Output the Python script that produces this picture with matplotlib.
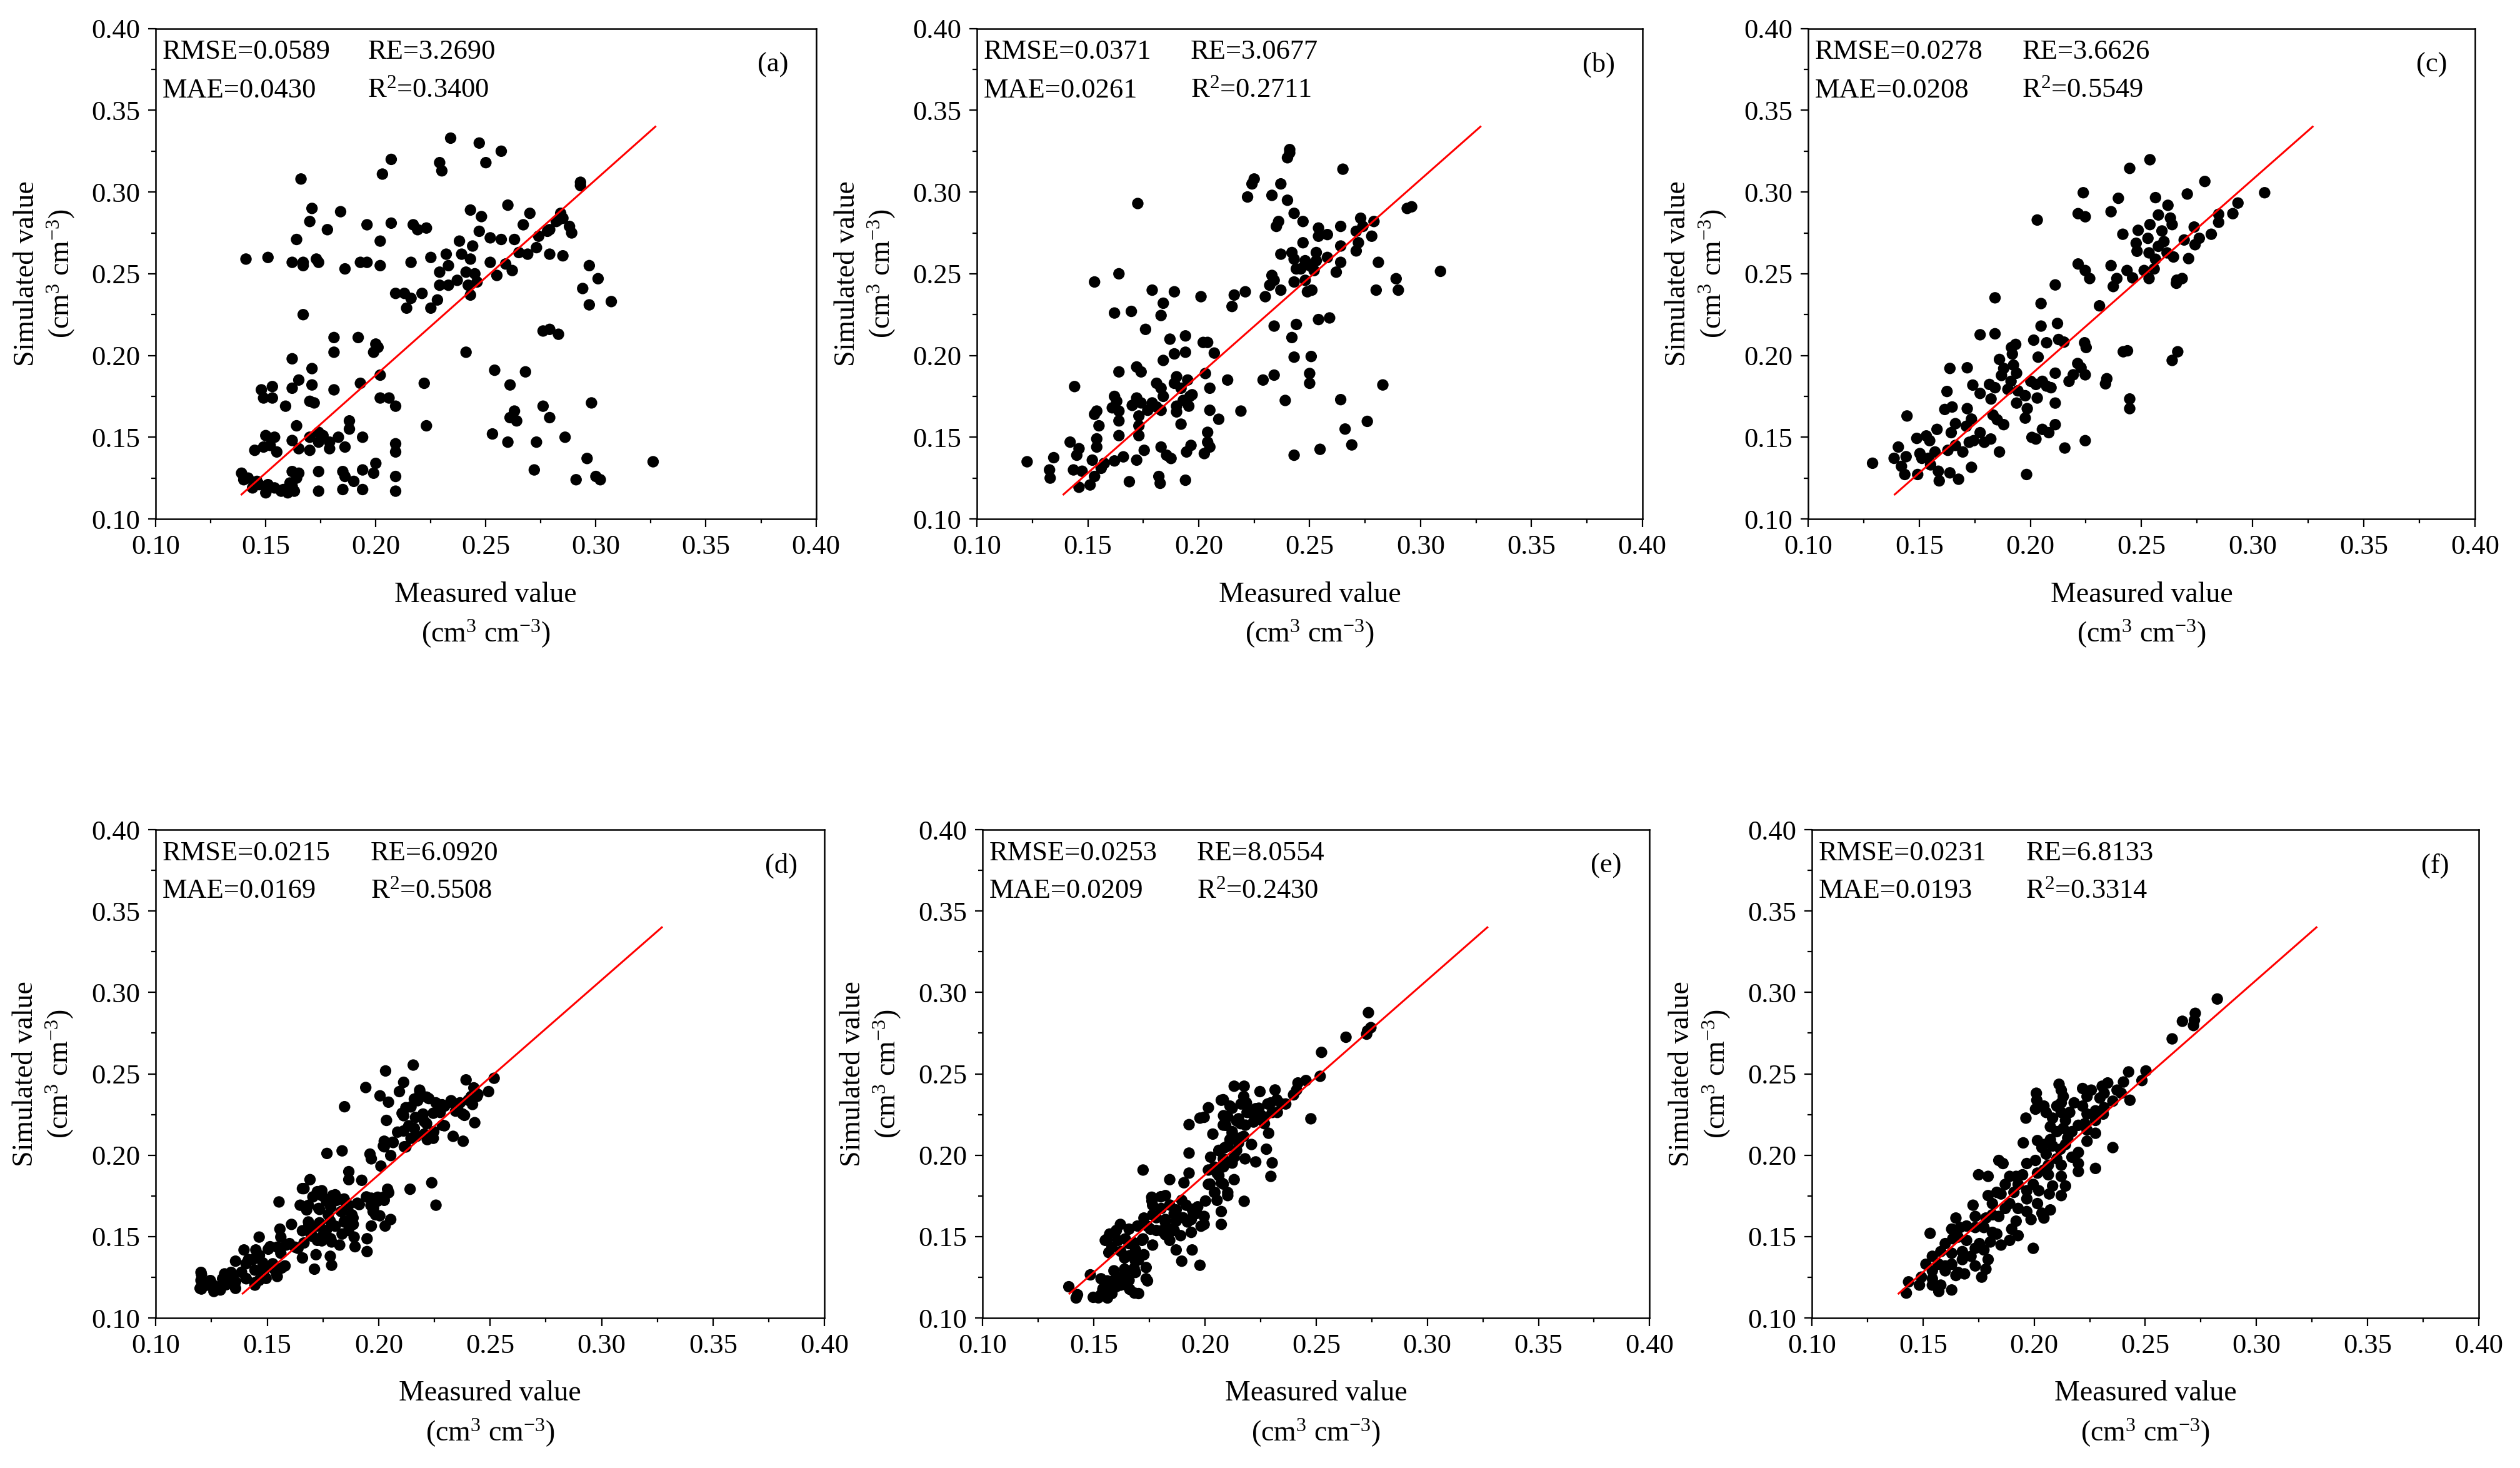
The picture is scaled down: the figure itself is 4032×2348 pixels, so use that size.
import matplotlib
matplotlib.use('Agg')
import matplotlib.pyplot as plt
from matplotlib.ticker import MultipleLocator

plt.rcParams['font.family'] = ['Liberation Serif', 'DejaVu Serif']
plt.rcParams['mathtext.fontset'] = 'custom'
plt.rcParams['mathtext.rm'] = 'Liberation Serif'
plt.rcParams['mathtext.it'] = 'Liberation Serif:italic'

# statistics printed in each panel
panel_tags = ['(a)', '(b)', '(c)', '(d)', '(e)', '(f)']
rmse = ['0.0589', '0.0371', '0.0278', '0.0215', '0.0253', '0.0231']
mae = ['0.0430', '0.0261', '0.0208', '0.0169', '0.0209', '0.0193']
re_vals = ['3.2690', '3.0677', '3.6626', '6.0920', '8.0554', '6.8133']
r2 = ['0.3400', '0.2711', '0.5549', '0.5508', '0.2430', '0.3314']

# red fitted line (same in every panel)
fit_x = [0.139, 0.327]
fit_y = [0.115, 0.340]

# (measured, simulated) pairs
a_points = [
    (0.234, 0.333), (0.247, 0.330), (0.257, 0.325), (0.207, 0.320), (0.229, 0.318), (0.230, 0.313),
    (0.250, 0.318), (0.203, 0.311), (0.166, 0.308), (0.293, 0.306), (0.293, 0.304), (0.171, 0.290),
    (0.184, 0.288), (0.243, 0.289), (0.260, 0.292), (0.248, 0.285), (0.270, 0.287), (0.170, 0.282),
    (0.178, 0.277), (0.196, 0.280), (0.207, 0.281), (0.217, 0.280), (0.219, 0.277), (0.223, 0.278),
    (0.267, 0.280), (0.284, 0.287), (0.283, 0.283), (0.288, 0.279), (0.289, 0.275), (0.278, 0.276),
    (0.274, 0.273), (0.279, 0.277), (0.282, 0.282), (0.285, 0.284), (0.164, 0.271), (0.202, 0.270),
    (0.247, 0.276), (0.252, 0.272), (0.257, 0.271), (0.263, 0.271), (0.265, 0.263), (0.269, 0.262),
    (0.273, 0.266), (0.279, 0.262), (0.285, 0.261), (0.141, 0.259), (0.151, 0.260), (0.162, 0.257),
    (0.167, 0.257), (0.167, 0.255), (0.173, 0.259), (0.174, 0.257), (0.186, 0.253), (0.193, 0.257),
    (0.196, 0.257), (0.202, 0.255), (0.216, 0.257), (0.225, 0.260), (0.232, 0.262), (0.238, 0.270),
    (0.239, 0.262), (0.244, 0.267), (0.243, 0.259), (0.229, 0.251), (0.233, 0.255), (0.241, 0.251),
    (0.245, 0.250), (0.252, 0.257), (0.255, 0.249), (0.259, 0.256), (0.262, 0.252), (0.297, 0.255),
    (0.301, 0.247), (0.294, 0.241), (0.297, 0.231), (0.307, 0.233), (0.229, 0.243), (0.233, 0.243),
    (0.237, 0.246), (0.242, 0.243), (0.243, 0.237), (0.246, 0.245), (0.209, 0.238), (0.213, 0.238),
    (0.216, 0.235), (0.214, 0.229), (0.221, 0.238), (0.225, 0.229), (0.228, 0.234), (0.167, 0.225),
    (0.276, 0.215), (0.279, 0.216), (0.283, 0.213), (0.181, 0.211), (0.181, 0.202), (0.192, 0.211),
    (0.200, 0.207), (0.199, 0.202), (0.201, 0.205), (0.241, 0.202), (0.162, 0.198), (0.254, 0.191),
    (0.268, 0.190), (0.171, 0.192), (0.202, 0.188), (0.193, 0.183), (0.222, 0.183), (0.165, 0.185),
    (0.261, 0.182), (0.148, 0.179), (0.153, 0.181), (0.162, 0.180), (0.171, 0.182), (0.181, 0.179),
    (0.149, 0.174), (0.153, 0.174), (0.202, 0.174), (0.206, 0.174), (0.170, 0.172), (0.172, 0.171),
    (0.209, 0.169), (0.159, 0.169), (0.276, 0.169), (0.298, 0.171), (0.263, 0.166), (0.264, 0.160),
    (0.261, 0.162), (0.279, 0.162), (0.164, 0.157), (0.223, 0.157), (0.253, 0.152), (0.260, 0.147),
    (0.273, 0.147), (0.286, 0.150), (0.150, 0.151), (0.154, 0.150), (0.149, 0.144), (0.145, 0.142),
    (0.155, 0.141), (0.162, 0.148), (0.165, 0.143), (0.170, 0.142), (0.170, 0.150), (0.174, 0.153),
    (0.176, 0.151), (0.174, 0.147), (0.179, 0.147), (0.183, 0.150), (0.179, 0.143), (0.188, 0.160),
    (0.188, 0.155), (0.186, 0.144), (0.194, 0.150), (0.209, 0.146), (0.209, 0.141), (0.139, 0.128),
    (0.142, 0.125), (0.144, 0.119), (0.147, 0.121), (0.151, 0.121), (0.154, 0.119), (0.157, 0.117),
    (0.160, 0.116), (0.162, 0.120), (0.164, 0.125), (0.162, 0.129), (0.165, 0.128), (0.163, 0.117),
    (0.174, 0.129), (0.174, 0.117), (0.185, 0.129), (0.186, 0.126), (0.185, 0.118), (0.190, 0.123),
    (0.194, 0.130), (0.194, 0.118), (0.200, 0.134), (0.199, 0.128), (0.209, 0.126), (0.209, 0.117),
    (0.291, 0.124), (0.296, 0.137), (0.300, 0.126), (0.302, 0.124), (0.272, 0.130), (0.326, 0.135),
    (0.140, 0.124), (0.150, 0.116), (0.158, 0.118), (0.161, 0.122), (0.146, 0.123), (0.152, 0.145),
]

b_points = [
    (0.241, 0.326), (0.241, 0.324), (0.240, 0.321), (0.265, 0.314), (0.225, 0.308), (0.224, 0.305),
    (0.237, 0.305), (0.222, 0.297), (0.233, 0.298), (0.240, 0.295), (0.1725, 0.293), (0.296, 0.291),
    (0.294, 0.290), (0.243, 0.287), (0.236, 0.282), (0.235, 0.279), (0.247, 0.282), (0.273, 0.284),
    (0.279, 0.282), (0.254, 0.278), (0.264, 0.279), (0.258, 0.274), (0.271, 0.276), (0.274, 0.279),
    (0.254, 0.273), (0.278, 0.273), (0.247, 0.269), (0.272, 0.269), (0.264, 0.267), (0.271, 0.264),
    (0.237, 0.262), (0.242, 0.263), (0.243, 0.259), (0.253, 0.263), (0.258, 0.260), (0.264, 0.257),
    (0.281, 0.257), (0.248, 0.258), (0.250, 0.255), (0.253, 0.258), (0.244, 0.253), (0.246, 0.253),
    (0.252, 0.252), (0.262, 0.251), (0.309, 0.2515), (0.233, 0.249), (0.234, 0.246), (0.232, 0.243),
    (0.237, 0.240), (0.243, 0.245), (0.248, 0.246), (0.249, 0.239), (0.251, 0.240), (0.289, 0.247),
    (0.290, 0.240), (0.280, 0.240), (0.153, 0.245), (0.164, 0.250), (0.179, 0.240), (0.189, 0.239),
    (0.201, 0.236), (0.216, 0.237), (0.215, 0.230), (0.221, 0.239), (0.230, 0.236), (0.184, 0.232),
    (0.162, 0.226), (0.1696, 0.227), (0.183, 0.2245), (0.176, 0.216), (0.187, 0.210), (0.194, 0.212),
    (0.202, 0.208), (0.204, 0.208), (0.207, 0.2015), (0.189, 0.201), (0.194, 0.202), (0.184, 0.197),
    (0.234, 0.218), (0.244, 0.219), (0.242, 0.211), (0.254, 0.222), (0.259, 0.223), (0.243, 0.199),
    (0.2507, 0.1994), (0.250, 0.189), (0.250, 0.183), (0.283, 0.182), (0.264, 0.173), (0.239, 0.1725),
    (0.229, 0.185), (0.213, 0.185), (0.205, 0.180), (0.203, 0.189), (0.144, 0.181), (0.164, 0.190),
    (0.172, 0.193), (0.174, 0.190), (0.181, 0.183), (0.183, 0.180), (0.190, 0.187), (0.189, 0.183),
    (0.195, 0.185), (0.197, 0.176), (0.162, 0.175), (0.163, 0.172), (0.161, 0.168), (0.164, 0.166),
    (0.164, 0.160), (0.153, 0.164), (0.154, 0.166), (0.155, 0.157), (0.154, 0.149), (0.154, 0.144),
    (0.164, 0.151), (0.170, 0.1695), (0.172, 0.174), (0.174, 0.171), (0.177, 0.1665), (0.173, 0.163),
    (0.173, 0.157), (0.173, 0.151), (0.179, 0.171), (0.181, 0.1685), (0.183, 0.1665), (0.184, 0.175),
    (0.190, 0.169), (0.190, 0.1655), (0.192, 0.158), (0.193, 0.1725), (0.196, 0.175), (0.1955, 0.169),
    (0.192, 0.180), (0.205, 0.1665), (0.209, 0.161), (0.219, 0.166), (0.204, 0.153), (0.204, 0.147),
    (0.205, 0.144), (0.2025, 0.140), (0.1965, 0.145), (0.1945, 0.141), (0.183, 0.144), (0.1855, 0.139),
    (0.1875, 0.137), (0.1754, 0.142), (0.172, 0.136), (0.166, 0.138), (0.162, 0.1355), (0.1574, 0.134),
    (0.156, 0.131), (0.152, 0.136), (0.153, 0.126), (0.151, 0.1208), (0.146, 0.1194), (0.1474, 0.1292),
    (0.145, 0.139), (0.146, 0.143), (0.142, 0.147), (0.1435, 0.130), (0.1327, 0.130), (0.133, 0.125),
    (0.1226, 0.135), (0.1346, 0.1375), (0.1687, 0.1228), (0.182, 0.126), (0.1826, 0.1218), (0.194, 0.1237),
    (0.243, 0.139), (0.2547, 0.1426), (0.269, 0.1453), (0.266, 0.155), (0.276, 0.1597), (0.234, 0.188),
]

c_points = [
    (0.2538, 0.3198), (0.2447, 0.3145), (0.2785, 0.3065), (0.2238, 0.2996), (0.3054, 0.2996), (0.2706, 0.2988),
    (0.2396, 0.2962), (0.2563, 0.2966), (0.2934, 0.2933), (0.2619, 0.2919), (0.2363, 0.2880), (0.2215, 0.2868),
    (0.2247, 0.2849), (0.2911, 0.2868), (0.2847, 0.2864), (0.2576, 0.2860), (0.2630, 0.2841), (0.2031, 0.2829),
    (0.2847, 0.2815), (0.2638, 0.2801), (0.2538, 0.2801), (0.2737, 0.2786), (0.2485, 0.2766), (0.2592, 0.2762),
    (0.2416, 0.2742), (0.2814, 0.2742), (0.2529, 0.2717), (0.2476, 0.2687), (0.2601, 0.2697), (0.2692, 0.2707),
    (0.2760, 0.2717), (0.2741, 0.2678), (0.2480, 0.2638), (0.2534, 0.2628), (0.2576, 0.2668), (0.2615, 0.2628),
    (0.2563, 0.2589), (0.2644, 0.2603), (0.2712, 0.2593), (0.2215, 0.2560), (0.2363, 0.2550), (0.2247, 0.2520),
    (0.2267, 0.2471), (0.2435, 0.2520), (0.2460, 0.2475), (0.2512, 0.2520), (0.2534, 0.2471), (0.2557, 0.2530),
    (0.2389, 0.2471), (0.2373, 0.2422), (0.2659, 0.2461), (0.2683, 0.2471), (0.2657, 0.2442), (0.2112, 0.2432),
    (0.1841, 0.2353), (0.2048, 0.2318), (0.2311, 0.2304), (0.2048, 0.2180), (0.2122, 0.2196), (0.1774, 0.2127),
    (0.1841, 0.2133), (0.2015, 0.2094), (0.2073, 0.2078), (0.2127, 0.2098), (0.2151, 0.2082), (0.2244, 0.2078),
    (0.2251, 0.2049), (0.1934, 0.2068), (0.1915, 0.2049), (0.1919, 0.2009), (0.2418, 0.2023), (0.2437, 0.2029),
    (0.2663, 0.2023), (0.2638, 0.1970), (0.1861, 0.1976), (0.2035, 0.1990), (0.1924, 0.1941), (0.1880, 0.1921),
    (0.1938, 0.1892), (0.1638, 0.1921), (0.1716, 0.1925), (0.1870, 0.1878), (0.2213, 0.1951), (0.2228, 0.1925),
    (0.2247, 0.1882), (0.2112, 0.1892), (0.2193, 0.1882), (0.2174, 0.1842), (0.2344, 0.1858), (0.2338, 0.1827),
    (0.1741, 0.1819), (0.1816, 0.1823), (0.1841, 0.1803), (0.1774, 0.1768), (0.1913, 0.1842), (0.1899, 0.1793),
    (0.1944, 0.1784), (0.1977, 0.1754), (0.2002, 0.1842), (0.2025, 0.1823), (0.2054, 0.1842), (0.2073, 0.1813),
    (0.2093, 0.1803), (0.2031, 0.1740), (0.1625, 0.1780), (0.1823, 0.1734), (0.1938, 0.1709), (0.2112, 0.1709),
    (0.2447, 0.1734), (0.2447, 0.1675), (0.1615, 0.1670), (0.1648, 0.1685), (0.1716, 0.1675), (0.1832, 0.1636),
    (0.1986, 0.1675), (0.1977, 0.1617), (0.1851, 0.1607), (0.1880, 0.1577), (0.1445, 0.1630), (0.1580, 0.1548),
    (0.1663, 0.1583), (0.1735, 0.1611), (0.1712, 0.1567), (0.1774, 0.1528), (0.1745, 0.1479), (0.1644, 0.1528),
    (0.2054, 0.1548), (0.2083, 0.1528), (0.2112, 0.1577), (0.2007, 0.1499), (0.2025, 0.1489), (0.2247, 0.1479),
    (0.1489, 0.1493), (0.1532, 0.1508), (0.1547, 0.1479), (0.1406, 0.1440), (0.1503, 0.1400), (0.1541, 0.1371),
    (0.1571, 0.1410), (0.1629, 0.1420), (0.1663, 0.1450), (0.1696, 0.1410), (0.1725, 0.1469), (0.1793, 0.1469),
    (0.1822, 0.1489), (0.1861, 0.1410), (0.2155, 0.1434), (0.1387, 0.1371), (0.1441, 0.1381), (0.1290, 0.1341),
    (0.1420, 0.1322), (0.1435, 0.1272), (0.1493, 0.1272), (0.1512, 0.1371), (0.1551, 0.1331), (0.1586, 0.1292),
    (0.1590, 0.1233), (0.1638, 0.1282), (0.1677, 0.1243), (0.1735, 0.1316), (0.1983, 0.1272),
]

d_points = [
    (0.2155, 0.2554), (0.2031, 0.2518), (0.2518, 0.2473), (0.2392, 0.2463), (0.2112, 0.2448), (0.1942, 0.2416),
    (0.2184, 0.2400), (0.2093, 0.2391), (0.2493, 0.2391), (0.2427, 0.2414), (0.2006, 0.2365), (0.2215, 0.2357),
    (0.2441, 0.2361), (0.2044, 0.2326), (0.2160, 0.2345), (0.2257, 0.2322), (0.2334, 0.2322), (0.2402, 0.2338),
    (0.1847, 0.2298), (0.2122, 0.2292), (0.2296, 0.2302), (0.2354, 0.2283), (0.2421, 0.2312), (0.2112, 0.2243),
    (0.2199, 0.2253), (0.2276, 0.2263), (0.2377, 0.2253), (0.2035, 0.2214), (0.2215, 0.2194), (0.2431, 0.2200),
    (0.2286, 0.2184), (0.2160, 0.2165), (0.2112, 0.2149), (0.2247, 0.2145), (0.2170, 0.2116), (0.2334, 0.2116),
    (0.2379, 0.2086), (0.2218, 0.2096), (0.2025, 0.2086), (0.2064, 0.2080), (0.2122, 0.2051), (0.2021, 0.2057),
    (0.1768, 0.2011), (0.1836, 0.2027), (0.1961, 0.2007), (0.1967, 0.1978), (0.2054, 0.1998), (0.2010, 0.1933),
    (0.1866, 0.1899), (0.1866, 0.1850), (0.1924, 0.1846), (0.2238, 0.1831), (0.2141, 0.1791), (0.2040, 0.1791),
    (0.2257, 0.1693), (0.1692, 0.1850), (0.1658, 0.1795), (0.1725, 0.1776), (0.1745, 0.1752), (0.1793, 0.1752),
    (0.1812, 0.1723), (0.1851, 0.1713), (0.1913, 0.1697), (0.1967, 0.1736), (0.1996, 0.1742), (0.2025, 0.1723),
    (0.1977, 0.1673), (0.1553, 0.1713), (0.1648, 0.1693), (0.1677, 0.1664), (0.1731, 0.1673), (0.1774, 0.1634),
    (0.1832, 0.1654), (0.1880, 0.1634), (0.1847, 0.1595), (0.1886, 0.1575), (0.1986, 0.1634), (0.2054, 0.1605),
    (0.2029, 0.1565), (0.1967, 0.1565), (0.1687, 0.1575), (0.1735, 0.1585), (0.1783, 0.1595), (0.1609, 0.1575),
    (0.1557, 0.1546), (0.1561, 0.1497), (0.1658, 0.1536), (0.1696, 0.1516), (0.1725, 0.1477), (0.1750, 0.1506),
    (0.1789, 0.1467), (0.1836, 0.1516), (0.1890, 0.1497), (0.1894, 0.1438), (0.1948, 0.1487), (0.1948, 0.1408),
    (0.1464, 0.1497), (0.1513, 0.1438), (0.1600, 0.1457), (0.1638, 0.1428), (0.1561, 0.1398), (0.1658, 0.1369),
    (0.1719, 0.1389), (0.1783, 0.1379), (0.1789, 0.1324), (0.1712, 0.1300), (0.1396, 0.1418), (0.1449, 0.1418),
    (0.1416, 0.1359), (0.1480, 0.1339), (0.1358, 0.1349), (0.1532, 0.1300), (0.1580, 0.1320), (0.1542, 0.1271),
    (0.1484, 0.1271), (0.1464, 0.1231), (0.1445, 0.1202), (0.1406, 0.1241), (0.1358, 0.1222), (0.1358, 0.1182),
    (0.1309, 0.1271), (0.1300, 0.1241), (0.1290, 0.1172), (0.1261, 0.1163), (0.1251, 0.1212), (0.1203, 0.1280),
    (0.1203, 0.1231), (0.1199, 0.1182), (0.1232, 0.1202), (0.1338, 0.1280),
    (0.1665, 0.1795), (0.1705, 0.1744), (0.1745, 0.1782), (0.1765, 0.1718), (0.1805, 0.1757), (0.1845, 0.1731),
    (0.1685, 0.1692), (0.1735, 0.1667), (0.1785, 0.1680), (0.1835, 0.1654), (0.1865, 0.1692), (0.1905, 0.1705),
    (0.1945, 0.1744), (0.1965, 0.1692), (0.1995, 0.1718), (0.2025, 0.1744), (0.2045, 0.1770), (0.1975, 0.1654),
    (0.2005, 0.1628), (0.1685, 0.1590), (0.1725, 0.1564), (0.1765, 0.1538), (0.1805, 0.1564), (0.1845, 0.1590),
    (0.1885, 0.1615), (0.1865, 0.1538), (0.1705, 0.1500), (0.1745, 0.1474), (0.1785, 0.1487), (0.1825, 0.1448),
    (0.1665, 0.1461), (0.1625, 0.1435), (0.1585, 0.1448), (0.1545, 0.1435), (0.1505, 0.1423), (0.1465, 0.1384),
    (0.1435, 0.1358), (0.1405, 0.1333), (0.1385, 0.1281), (0.1445, 0.1294), (0.1485, 0.1307), (0.1525, 0.1333),
    (0.1565, 0.1307), (0.1545, 0.1255), (0.1495, 0.1243), (0.1445, 0.1217), (0.1405, 0.1243), (0.1345, 0.1255),
    (0.1315, 0.1204), (0.1275, 0.1191), (0.1235, 0.1204), (0.1205, 0.1178), (0.1205, 0.1268), (0.1245, 0.1230),
    (0.2085, 0.2142), (0.2135, 0.2181), (0.2165, 0.2232), (0.2205, 0.2207), (0.2245, 0.2258), (0.2285, 0.2310),
    (0.2325, 0.2335), (0.2365, 0.2322), (0.2205, 0.2130), (0.2245, 0.2104), (0.2145, 0.2104), (0.2115, 0.2052),
    (0.2065, 0.2078), (0.2025, 0.2052), (0.2175, 0.2335), (0.2145, 0.2297), (0.2105, 0.2258), (0.2185, 0.2387),
    (0.2225, 0.2348), (0.2295, 0.2181), (0.2345, 0.2271), (0.2385, 0.2245), (0.2415, 0.2361), (0.2445, 0.2374),
]

e_points = [
    (0.2735, 0.2876), (0.2731, 0.2764), (0.2746, 0.2784), (0.2727, 0.2744), (0.2634, 0.2725), (0.2524, 0.2632),
    (0.2518, 0.2485), (0.2454, 0.2459), (0.2418, 0.2444), (0.2412, 0.2401), (0.2398, 0.2371), (0.2131, 0.2424),
    (0.2176, 0.2424), (0.2247, 0.2391), (0.2315, 0.2401), (0.2073, 0.2338), (0.2174, 0.2361), (0.2186, 0.2322),
    (0.2112, 0.2302), (0.2228, 0.2286), (0.2296, 0.2322), (0.2344, 0.2316), (0.2015, 0.2292), (0.1996, 0.2233),
    (0.2083, 0.2243), (0.2151, 0.2224), (0.2189, 0.2263), (0.2247, 0.2253), (0.2325, 0.2263), (0.1928, 0.2188),
    (0.1977, 0.2228), (0.2476, 0.2224), (0.2093, 0.2184), (0.2160, 0.2194), (0.2218, 0.2204), (0.2267, 0.2194),
    (0.2122, 0.2145), (0.2174, 0.2116), (0.2035, 0.2130), (0.2286, 0.2135), (0.2112, 0.2096), (0.2151, 0.2076),
    (0.2209, 0.2066), (0.2089, 0.2047), (0.2276, 0.2037), (0.2064, 0.2027), (0.1928, 0.2013), (0.2025, 0.1988),
    (0.2131, 0.1988), (0.2180, 0.1978), (0.2228, 0.1959), (0.2302, 0.1953), (0.2093, 0.1959), (0.2083, 0.1929),
    (0.2015, 0.1909), (0.2054, 0.1890), (0.1928, 0.1890), (0.2296, 0.1870), (0.2131, 0.1850), (0.1841, 0.1850),
    (0.1905, 0.1831), (0.2073, 0.1831), (0.1721, 0.1909), (0.2015, 0.1821), (0.2044, 0.1772), (0.2102, 0.1752),
    (0.2176, 0.1717), (0.2054, 0.1723), (0.1760, 0.1742), (0.1822, 0.1752), (0.1895, 0.1723), (0.1915, 0.1693),
    (0.1967, 0.1683), (0.2073, 0.1654), (0.1764, 0.1693), (0.1803, 0.1673), (0.1870, 0.1664), (0.1948, 0.1644),
    (0.1996, 0.1624), (0.1938, 0.1605), (0.1764, 0.1634), (0.1725, 0.1614), (0.1822, 0.1605), (0.1870, 0.1595),
    (0.1996, 0.1575), (0.2073, 0.1575), (0.1619, 0.1575), (0.1658, 0.1546), (0.1696, 0.1565), (0.1754, 0.1546),
    (0.1803, 0.1536), (0.1841, 0.1546), (0.1890, 0.1506), (0.1938, 0.1526), (0.1571, 0.1516), (0.1551, 0.1477),
    (0.1609, 0.1477), (0.1658, 0.1457), (0.1716, 0.1477), (0.1764, 0.1448), (0.1841, 0.1477), (0.1567, 0.1402),
    (0.1687, 0.1418), (0.1725, 0.1389), (0.1870, 0.1418), (0.1942, 0.1418), (0.1638, 0.1369), (0.1687, 0.1349),
    (0.1895, 0.1349), (0.1977, 0.1324), (0.1735, 0.1310), (0.1484, 0.1265), (0.1532, 0.1241), (0.1590, 0.1290),
    (0.1638, 0.1300), (0.1687, 0.1280), (0.1735, 0.1241), (0.1571, 0.1222), (0.1619, 0.1222), (0.1658, 0.1231),
    (0.1387, 0.1192), (0.1426, 0.1143), (0.1420, 0.1123), (0.1497, 0.1127), (0.1532, 0.1143), (0.1561, 0.1123),
    (0.1580, 0.1163), (0.1600, 0.1192), (0.1542, 0.1182), (0.1683, 0.1153), (0.1648, 0.1202),
    (0.2082, 0.2341), (0.2122, 0.2289), (0.2162, 0.2315), (0.2202, 0.2263), (0.2242, 0.2289), (0.2282, 0.2315),
    (0.2323, 0.2341), (0.2363, 0.2315), (0.2102, 0.2237), (0.2142, 0.2211), (0.2182, 0.2185), (0.2222, 0.2211),
    (0.2262, 0.2237), (0.2302, 0.2263), (0.2082, 0.2185), (0.2122, 0.2134), (0.2162, 0.2108), (0.2102, 0.2056),
    (0.2142, 0.2030), (0.2062, 0.2030), (0.2082, 0.1978), (0.2122, 0.1952), (0.2042, 0.1927), (0.2062, 0.1875),
    (0.2022, 0.1823), (0.2082, 0.1823), (0.2042, 0.1771), (0.2102, 0.1771), (0.2002, 0.1719), (0.1942, 0.1668),
    (0.1901, 0.1616), (0.1861, 0.1642), (0.1821, 0.1590), (0.1781, 0.1616), (0.1761, 0.1719), (0.1801, 0.1745),
    (0.1841, 0.1694), (0.1921, 0.1590), (0.1962, 0.1642), (0.1982, 0.1564), (0.1861, 0.1538), (0.1821, 0.1512),
    (0.1781, 0.1538), (0.1741, 0.1564), (0.1721, 0.1486), (0.1681, 0.1461), (0.1641, 0.1486), (0.1601, 0.1538),
    (0.1560, 0.1486), (0.1581, 0.1435), (0.1621, 0.1409), (0.1661, 0.1383), (0.1701, 0.1357), (0.1681, 0.1305),
    (0.1641, 0.1279), (0.1601, 0.1254), (0.1560, 0.1228), (0.1540, 0.1176), (0.1581, 0.1150), (0.1520, 0.1124),
    (0.1621, 0.1202), (0.1661, 0.1176), (0.1701, 0.1150), (0.1741, 0.1228),
]

f_points = [
    (0.2824, 0.2960), (0.2725, 0.2872), (0.2721, 0.2829), (0.2717, 0.2797), (0.2667, 0.2823), (0.2621, 0.2715),
    (0.2503, 0.2518), (0.2425, 0.2512), (0.2485, 0.2459), (0.2402, 0.2450), (0.2331, 0.2444), (0.2112, 0.2436),
    (0.2218, 0.2410), (0.2306, 0.2424), (0.2373, 0.2400), (0.2431, 0.2338), (0.2010, 0.2381), (0.2131, 0.2361),
    (0.2238, 0.2361), (0.2296, 0.2351), (0.2354, 0.2332), (0.2012, 0.2338), (0.2122, 0.2322), (0.2180, 0.2322),
    (0.2102, 0.2302), (0.2315, 0.2292), (0.2006, 0.2283), (0.2054, 0.2263), (0.2122, 0.2263), (0.2238, 0.2253),
    (0.2276, 0.2273), (0.2311, 0.2253), (0.1963, 0.2228), (0.2083, 0.2228), (0.2141, 0.2214), (0.2228, 0.2194),
    (0.2276, 0.2214), (0.2073, 0.2175), (0.2131, 0.2165), (0.2170, 0.2145), (0.2238, 0.2155), (0.2276, 0.2135),
    (0.2151, 0.2106), (0.2238, 0.2086), (0.2015, 0.2090), (0.2073, 0.2096), (0.1951, 0.2076), (0.2354, 0.2047),
    (0.2035, 0.2047), (0.2083, 0.2057), (0.2118, 0.2037), (0.2199, 0.2017), (0.2054, 0.2007), (0.2006, 0.1968),
    (0.2102, 0.1978), (0.2170, 0.1988), (0.1841, 0.1968), (0.1860, 0.1949), (0.2064, 0.1939), (0.2122, 0.1939),
    (0.2199, 0.1949), (0.2276, 0.1919), (0.1750, 0.1880), (0.1919, 0.1870), (0.1948, 0.1880), (0.2015, 0.1890),
    (0.2199, 0.1900), (0.2064, 0.1880), (0.1870, 0.1821), (0.1928, 0.1821), (0.1996, 0.1821), (0.2083, 0.1811),
    (0.2141, 0.1811), (0.1793, 0.1752), (0.1851, 0.1762), (0.1909, 0.1772), (0.1967, 0.1782), (0.2021, 0.1782),
    (0.2068, 0.1762), (0.2122, 0.1752), (0.1725, 0.1693), (0.1812, 0.1703), (0.1890, 0.1703), (0.2015, 0.1703),
    (0.2073, 0.1664), (0.1967, 0.1654), (0.2035, 0.1644), (0.1986, 0.1605), (0.1648, 0.1614), (0.1667, 0.1556),
    (0.1735, 0.1624), (0.1783, 0.1614), (0.1841, 0.1624), (0.1919, 0.1595), (0.1629, 0.1546), (0.1696, 0.1565),
    (0.1774, 0.1556), (0.1812, 0.1526), (0.1899, 0.1546), (0.1928, 0.1506), (0.1532, 0.1520), (0.1634, 0.1487),
    (0.1696, 0.1477), (0.1754, 0.1457), (0.1803, 0.1467), (0.1851, 0.1448), (0.1996, 0.1428), (0.1580, 0.1408),
    (0.1629, 0.1398), (0.1677, 0.1408), (0.1735, 0.1428), (0.1513, 0.1330), (0.1571, 0.1330), (0.1629, 0.1330),
    (0.1677, 0.1359), (0.1735, 0.1320), (0.1793, 0.1359), (0.1783, 0.1300), (0.1542, 0.1290), (0.1600, 0.1290),
    (0.1648, 0.1261), (0.1687, 0.1271), (0.1764, 0.1251), (0.1493, 0.1251), (0.1435, 0.1222), (0.1542, 0.1202),
    (0.1580, 0.1202), (0.1571, 0.1163), (0.1629, 0.1172), (0.1425, 0.1153),
    (0.2044, 0.2302), (0.2160, 0.2263), (0.2199, 0.2184), (0.2102, 0.2145), (0.2044, 0.2066), (0.2141, 0.2066),
    (0.2218, 0.2302), (0.2315, 0.2381), (0.2392, 0.2381), (0.2257, 0.2400), (0.2122, 0.2400), (0.2044, 0.1909),
    (0.2122, 0.1870), (0.1967, 0.1949), (0.1890, 0.1870), (0.1967, 0.1732), (0.1870, 0.1673), (0.1812, 0.1634),
    (0.1735, 0.1556), (0.1658, 0.1497), (0.1600, 0.1457), (0.1542, 0.1379), (0.1600, 0.1320), (0.1658, 0.1280),
    (0.1542, 0.1241), (0.1484, 0.1202), (0.1716, 0.1379), (0.1774, 0.1418), (0.1832, 0.1516), (0.1890, 0.1477),
    (0.1928, 0.1673), (0.2044, 0.1614), (0.1832, 0.1772), (0.1793, 0.1870),
]

all_points = [a_points, b_points, c_points, d_points, e_points, f_points]

# axes rectangles [left, bottom, width, height] in figure fractions
boxes = [
    [0.0618, 0.6465, 0.2620, 0.3340],
    [0.3877, 0.6465, 0.2640, 0.3340],
    [0.7175, 0.6465, 0.2646, 0.3340],
    [0.0618, 0.1022, 0.2654, 0.3326],
    [0.3900, 0.1022, 0.2646, 0.3326],
    [0.7190, 0.1022, 0.2646, 0.3326],
]

fs = 32
fig = plt.figure(figsize=(40.32, 23.48), dpi=100)

for i, pts in enumerate(all_points):
    ax = fig.add_axes(boxes[i])
    xs = [p[0] for p in pts]
    ys = [p[1] for p in pts]
    ax.scatter(xs, ys, s=175, color='black', edgecolors='none', zorder=3)
    ax.plot(fit_x, fit_y, color='red', linewidth=2.2, zorder=4)

    ax.set_xlim(0.10, 0.40)
    ax.set_ylim(0.10, 0.40)
    ax.xaxis.set_major_locator(MultipleLocator(0.05))
    ax.xaxis.set_minor_locator(MultipleLocator(0.025))
    ax.yaxis.set_major_locator(MultipleLocator(0.05))
    ax.yaxis.set_minor_locator(MultipleLocator(0.025))
    ax.xaxis.set_major_formatter(lambda v, pos: f'{v:.2f}')
    ax.yaxis.set_major_formatter(lambda v, pos: f'{v:.2f}')
    ax.tick_params(which='both', direction='out', top=False, right=False, width=1.6, labelsize=fs)
    ax.tick_params(which='major', length=9, pad=9)
    ax.tick_params(which='minor', length=5)
    for sp in ax.spines.values():
        sp.set_linewidth(1.8)

    ax.text(0.010, 0.952, f'RMSE={rmse[i]}', transform=ax.transAxes, fontsize=fs, va='center', ha='left')
    ax.text(0.321, 0.952, f'RE={re_vals[i]}', transform=ax.transAxes, fontsize=fs, va='center', ha='left')
    ax.text(0.010, 0.874, f'MAE={mae[i]}', transform=ax.transAxes, fontsize=fs, va='center', ha='left')
    ax.text(0.321, 0.874, f'R$^2$={r2[i]}', transform=ax.transAxes, fontsize=fs, va='center', ha='left')
    ax.text(0.935, 0.926, panel_tags[i], transform=ax.transAxes, fontsize=fs, va='center', ha='center')

    ax.text(0.5, -0.155, 'Measured value', transform=ax.transAxes, fontsize=33, ha='center', va='center')
    ax.text(0.5, -0.235, '(cm$^3$ cm$^{-3}$)', transform=ax.transAxes, fontsize=33, ha='center', va='center')
    ax.text(-0.195, 0.5, 'Simulated value', transform=ax.transAxes, fontsize=33, ha='center', va='center',
            rotation=90)
    ax.text(-0.143, 0.5, '(cm$^3$ cm$^{-3}$)', transform=ax.transAxes, fontsize=33, ha='center', va='center',
            rotation=90)

fig.savefig('out.png', dpi=100)
